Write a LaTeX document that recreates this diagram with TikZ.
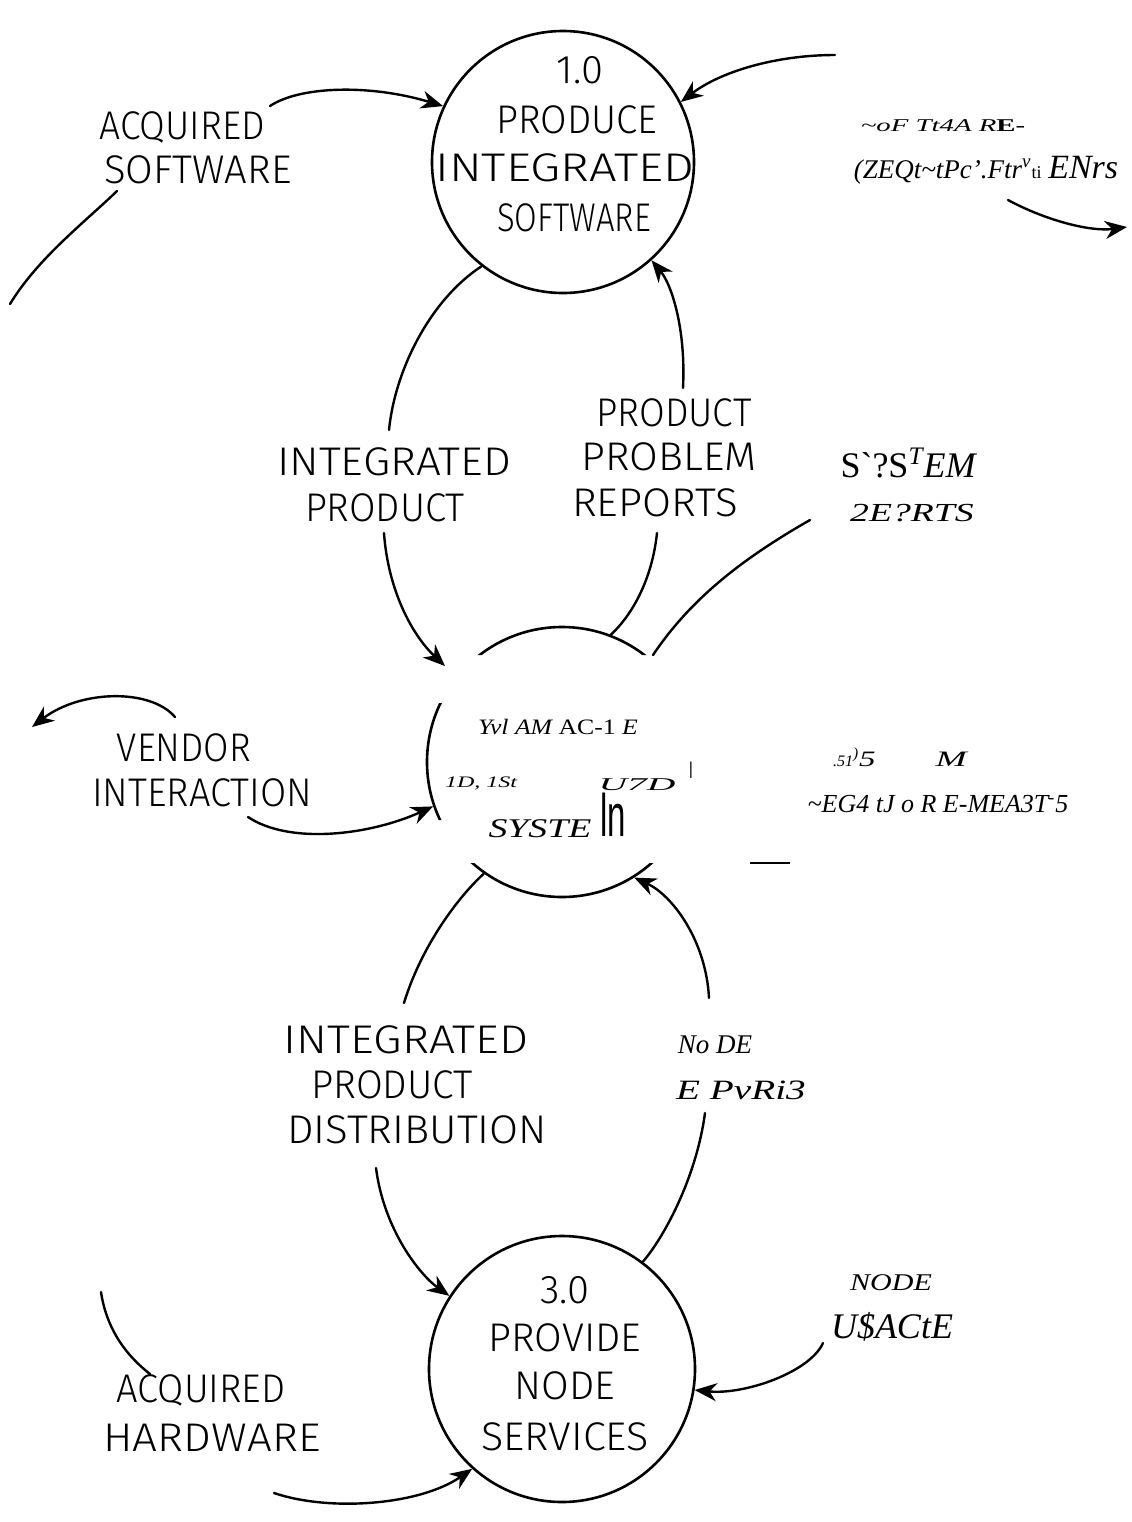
\documentclass[tikz,border=0pt]{standalone}
\usepackage{fontspec}
\usepackage{graphicx}
\setmainfont{Liberation Serif}
\newfontfamily\hand{Fira Sans Light}
\newfontfamily\narrowsans[FakeStretch=0.55]{Liberation Sans}
\usetikzlibrary{arrows.meta}
% horizontally stretched text
\newcommand\wide[2]{\scalebox{#1}[1]{#2}}

\begin{document}
\begin{tikzpicture}[x=0.5pt,y=-0.5pt,
  flow/.style={line width=1.2pt, line cap=round},
  arr/.style={flow,-{Stealth[length=11pt,width=9pt,inset=3.5pt]}},
  proc/.style={draw, circle, line width=1.3pt, inner sep=0pt},
  hw/.style={font=\hand\fontsize{20}{22}\selectfont, inner sep=0pt},
  ocr/.style={font=\fontsize{11}{13}\selectfont\itshape, inner sep=0pt},
]
\fill[white] (0,0) rectangle (1131,1522);
\useasboundingbox (0,0) rectangle (1131,1522);

% ---- process 1.0 ----
\node[proc, minimum size=131pt] (p1) at (563,162) {};
\node[hw] (p1n) at (580,70) {1.0};
\node[hw] (p1a) at (577,120) {\wide{0.96}{PRODUCE}};
\node[hw] (p1b) at (565,168) {\wide{1.22}{INTEGRATED}};
\node[hw] (p1c) at (574,218) {\wide{0.82}{SOFTWARE}};

% ---- middle process (partly drawn) ----
\begin{scope}
  \clip (0,0) rectangle (1131,655) (0,863) rectangle (1131,1522) (0,703) rectangle (460,820);
  \node[proc, minimum size=135pt] (p2) at (562,762) {};
\end{scope}
\node[ocr] (p2a) at (558,727) {\wide{1.17}{Yvl AM {\upshape AC-1} E}};
\node[ocr, font=\fontsize{8}{9}\selectfont\itshape] (p2b) at (481,783) {\wide{1.5}{1D, 1St}};
\node[ocr, font=\fontsize{9}{10}\selectfont\itshape] (p2c) at (637,785) {\wide{2.2}{U7D}};
\node[inner sep=0pt, font=\narrowsans\fontsize{12}{12}\selectfont] (p2d) at (691,770) {I};
\node[ocr, font=\fontsize{13.5}{15}\selectfont\itshape] (p2e) at (540,829) {\wide{1.4}{SYSTE}};
\node[inner sep=0pt, font=\narrowsans\fontsize{30}{30}\selectfont] (p2f) at (613,815) {ln};

% ---- process 3.0 ----
\node[proc, minimum size=133pt] (p3) at (562,1369) {};
\node[hw] (p3n) at (565,1290) {3.0};
\node[hw] (p3a) at (565,1338) {PROVIDE};
\node[hw] (p3b) at (565,1386) {NODE};
\node[hw] (p3c) at (565,1437) {\wide{1.03}{SERVICES}};

% ---- flow labels ----
\node[hw] (asw1) at (182,127) {\wide{0.93}{ACQUIRED}};
\node[hw] (asw2) at (198,170) {SOFTWARE};
\node[hw] (ip1) at (394,462) {\wide{1.1}{INTEGRATED}};
\node[hw] (ip2) at (385,508) {\wide{0.96}{PRODUCT}};
\node[hw] (pp1) at (674,413) {\wide{0.93}{PRODUCT}};
\node[hw] (pp2) at (669,457) {\wide{1.04}{PROBLEM}};
\node[hw] (pp3) at (655,503) {\wide{1.05}{REPORTS}};
\node[hw] (vi1) at (184,748) {\wide{0.92}{VENDOR}};
\node[hw] (vi2) at (202,793) {\wide{0.95}{INTERACTION}};
\node[hw] (ipd1) at (406,1040) {\wide{1.15}{INTEGRATED}};
\node[hw] (ipd2) at (392,1085) {\wide{0.97}{PRODUCT}};
\node[hw] (ipd3) at (417,1130) {\wide{1.05}{DISTRIBUTION}};
\node[hw] (ah1) at (201,1390) {\wide{0.95}{ACQUIRED}};
\node[hw] (ah2) at (212,1438) {\wide{1.1}{HARDWARE}};

\node[ocr, font=\fontsize{9}{11}\selectfont\itshape] (sr1) at (943,126)
  {\wide{1.6}{\textasciitilde oF Tt4A R{\bfseries\upshape E-}}};
\node[ocr, font=\fontsize{13.5}{15}\selectfont] (sr2) at (986,170)
  {{\itshape (ZEQt\textasciitilde tPc'.Ftr}\textsuperscript{\itshape v}{\small ti}
   {\fontsize{17}{19}\selectfont\itshape ENrs}};
\node[ocr, font=\fontsize{18}{20}\selectfont] (sy1) at (908,463)
  {S\textasciigrave?S\textsuperscript{\itshape T}{\itshape EM}};
\node[ocr, font=\fontsize{13}{15}\selectfont\itshape] (sy2) at (912,513) {\wide{1.45}{2E?RTS}};
\node[ocr, font=\fontsize{11}{13}\selectfont\itshape] (sm1) at (900,757)
  {{\footnotesize .51}\textsuperscript{)}\wide{1.5}{5}\hspace{30pt}\wide{1.7}{M}};
\node[ocr, font=\fontsize{13}{15}\selectfont\itshape] (sm2) at (938,804) {\textasciitilde EG4 tJ o R E-MEA3T\textsuperscript{-}5};
\node[ocr, font=\fontsize{13.5}{15}\selectfont\itshape] (nr1) at (715,1045) {No DE};
\node[ocr, font=\fontsize{14}{16}\selectfont\itshape] (nr2) at (741,1090) {\wide{1.4}{E PvRi3}};
\node[ocr, font=\fontsize{12}{14}\selectfont\itshape] (nu1) at (891,1283) {\wide{1.25}{NODE}};
\node[ocr, font=\fontsize{18}{20}\selectfont\itshape] (nu2) at (892,1327) {U\$ACtE};

% ---- free ends of the flows ----
\coordinate (aswS) at (270,106);
\coordinate (aswT) at (117,191);
\coordinate (aswU) at (10,304);
\coordinate (srIn) at (835,55);
\coordinate (srOutS) at (1008,200);
\coordinate (srOutE) at (1127,227);
\coordinate (ipTop) at (389,430);
\coordinate (ipBot) at (384,533);
\coordinate (ipTip) at (445,666);
\coordinate (ppTop) at (683,388);
\coordinate (ppBot) at (657,533);
\coordinate (syS) at (810,520);
\coordinate (syE) at (653,655);
\coordinate (viS) at (175,717);
\coordinate (viE) at (32,727);
\coordinate (viB) at (248,817);
\coordinate (ipdTop) at (404,1003);
\coordinate (ipdBot) at (376,1168);
\coordinate (nrTop) at (709,998);
\coordinate (nrBot) at (705,1113);
\coordinate (ahA) at (101,1292);
\coordinate (ahB) at (150,1374);
\coordinate (ahC) at (274,1493);
\coordinate (nuS) at (823,1343);

% ---- flows ----
\draw[arr] (aswS) .. controls (300,86) and (370,84) .. (p1.155);
\draw[flow] (aswT) .. controls (85,222) and (38,258) .. (aswU);
\draw[arr] (srIn) .. controls (775,55) and (720,72) .. (p1.27);
\draw[arr] (srOutS) .. controls (1045,220) and (1090,232) .. (srOutE);
\draw[flow] (p1.232) .. controls (430,300) and (395,370) .. (ipTop);
\draw[arr] (ppTop) .. controls (686,330) and (672,285) .. (p1.312);
\draw[arr] (ipBot) .. controls (388,590) and (412,635) .. (ipTip);
\draw[flow] (ppBot) .. controls (652,580) and (632,615) .. (p2.69);
\draw[flow] (syS) .. controls (740,560) and (690,600) .. (syE);
\draw[arr] (viS) .. controls (150,688) and (80,690) .. (viE);
\draw[arr] (viB) .. controls (290,845) and (370,835) .. (p2.199);
\draw[flow] (ipdTop) .. controls (420,950) and (455,900) .. (p2.235);
\draw[arr] (nrTop) .. controls (706,940) and (672,895) .. (p2.302);
\draw[arr] (ipdBot) .. controls (384,1230) and (420,1275) .. (p3.147);
\draw[flow] (nrBot) .. controls (696,1180) and (662,1240) .. (p3.53);
\draw[flow] (ahA) .. controls (106,1325) and (122,1352) .. (ahB);
\draw[arr] (ahC) .. controls (330,1512) and (420,1505) .. (p3.228);
\draw[arr] (nuS) .. controls (810,1372) and (745,1395) .. (p3.351);

% stray stroke right of the middle process
\draw[line width=0.9pt] (750,863) -- (790,863);
\end{tikzpicture}
\end{document}
